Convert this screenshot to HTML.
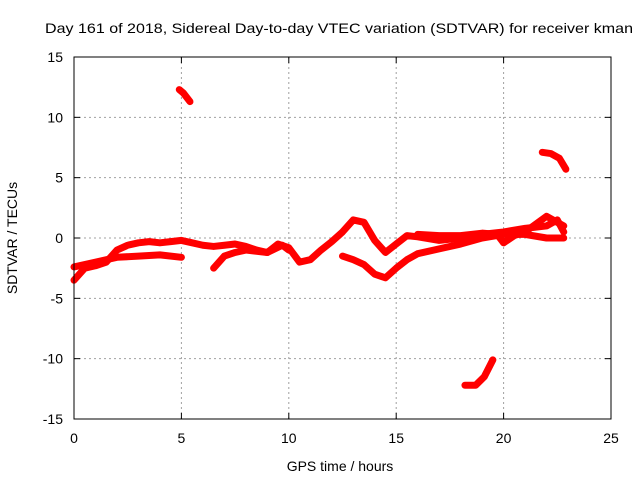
<!DOCTYPE html>
<html><head><meta charset="utf-8"><style>
body{margin:0;background:#fff;width:640px;height:480px;overflow:hidden}
svg{font-family:"Liberation Sans",sans-serif;font-size:14px}
</style></head><body>
<svg id="c" width="640" height="480" xmlns="http://www.w3.org/2000/svg">
<text x="339" y="33" text-anchor="middle" textLength="588" lengthAdjust="spacingAndGlyphs">Day 161 of 2018, Sidereal Day-to-day VTEC variation (SDTVAR) for receiver kman</text>
<g id="grid"></g>
<g id="series"></g>
<rect x="74" y="57" width="537" height="362" fill="none" stroke="#000" stroke-width="1"/>
<g id="ticks"></g>
<text x="340" y="471" text-anchor="middle">GPS time / hours</text>
<text transform="translate(17,238) rotate(-90)" text-anchor="middle">SDTVAR / TECUs</text>
</svg>
<script>
const xTicks=[0,5,10,15,20,25];
const yTicks=[15,10,5,0,-5,-10,-15];
const arcMain=[[0,-3.5],[0.5,-2.5],[1,-2.3],[1.5,-2],[2,-1.0],[2.5,-0.6],[3,-0.4],[3.5,-0.3],[4,-0.4],[4.5,-0.3],[5,-0.2],[5.5,-0.4],[6,-0.6],[6.5,-0.7],[7,-0.6],[7.5,-0.5],[8,-0.7],[8.5,-1.0],[9,-1.2],[9.5,-0.5],[10,-0.8],[10.5,-2.0],[11,-1.8],[11.5,-1.0],[12,-0.3],[12.5,0.5],[13,1.5],[13.5,1.3],[14,-0.2],[14.5,-1.2],[15,-0.5],[15.5,0.2],[16,0.1],[17,-0.2],[18,0.0],[19,0.3],[20,0.5],[21,0.8],[22,1.0],[22.5,1.5],[22.8,0.5]];
const arcLowLeft=[[0,-2.4],[1,-2.0],[2,-1.6],[3,-1.5],[4,-1.4],[5,-1.6]];
const arcMid=[[6.5,-2.5],[7,-1.5],[7.5,-1.2],[8,-1.0],[9,-1.2],[9.7,-0.6],[10,-1.0]];
const arcDip=[[12.5,-1.5],[13,-1.8],[13.5,-2.2],[14,-3.0],[14.5,-3.3],[15,-2.5],[15.5,-1.8],[16,-1.3],[17,-0.9],[18,-0.5],[19,0],[20,0.3],[21,0.3],[22,0.0],[22.8,0.0]];
const arcRight=[[16,0.3],[17,0.2],[18,0.2],[19,0.4],[19.7,0.3],[20,-0.4],[20.5,0.2],[21,0.5],[22,1.8],[22.8,1.0]];
const arcTop=[[4.9,12.3],[5.1,12.0],[5.4,11.3]];
const arcTopRight=[[21.8,7.1],[22.2,7.0],[22.6,6.6],[22.9,5.7]];
const arcBottom=[[18.2,-12.2],[18.7,-12.2],[19.1,-11.5],[19.5,-10.1]];
const arcs=[arcMain,arcLowLeft,arcMid,arcDip,arcRight,arcTop,arcTopRight,arcBottom];
const X0=74,X1=611,Y0=419,Y1=57;
const xs=v=>X0+(v-0)/25*(X1-X0);
const ys=v=>Y0-(v+15)/30*(Y0-Y1);
const NS="http://www.w3.org/2000/svg";
const g=document.getElementById('grid'),t=document.getElementById('ticks'),s=document.getElementById('series');
function mk(tag,a,p){const e=document.createElementNS(NS,tag);for(const k in a)e.setAttribute(k,a[k]);p.appendChild(e);return e;}
xTicks.forEach(v=>{const x=xs(v);
 if(v>0&&v<25){const l=mk('line',{x1:x,x2:x,y1:Y1,y2:Y0,stroke:'#a0a0a0','stroke-dasharray':'2,3'},g);}
 const a=mk('line',{x1:x,x2:x,y1:Y0,y2:Y0-6,stroke:'#000'},t);
 const b=mk('line',{x1:x,x2:x,y1:Y1,y2:Y1+6,stroke:'#000'},t);
 const tx=mk('text',{x:x,y:443,'text-anchor':'middle'},t);tx.textContent=v;});
yTicks.forEach(v=>{const y=ys(v);
 if(v>-15&&v<15){const l=mk('line',{x1:X0,x2:X1,y1:y,y2:y,stroke:'#a0a0a0','stroke-dasharray':'2,3'},g);}
 const a=mk('line',{x1:X0,x2:X0+6,y1:y,y2:y,stroke:'#000'},t);
 const b=mk('line',{x1:X1,x2:X1-6,y1:y,y2:y,stroke:'#000'},t);
 const tx=mk('text',{x:63,y:y+5,'text-anchor':'end'},t);tx.textContent=v;});
arcs.forEach(arc=>{const p=mk('polyline',{points:arc.map(d=>xs(d[0])+','+ys(d[1])).join(' '),fill:'none',stroke:'#ff0000','stroke-width':7,'stroke-linejoin':'round','stroke-linecap':'round'},s);
 
 });
</script>
</body></html>
